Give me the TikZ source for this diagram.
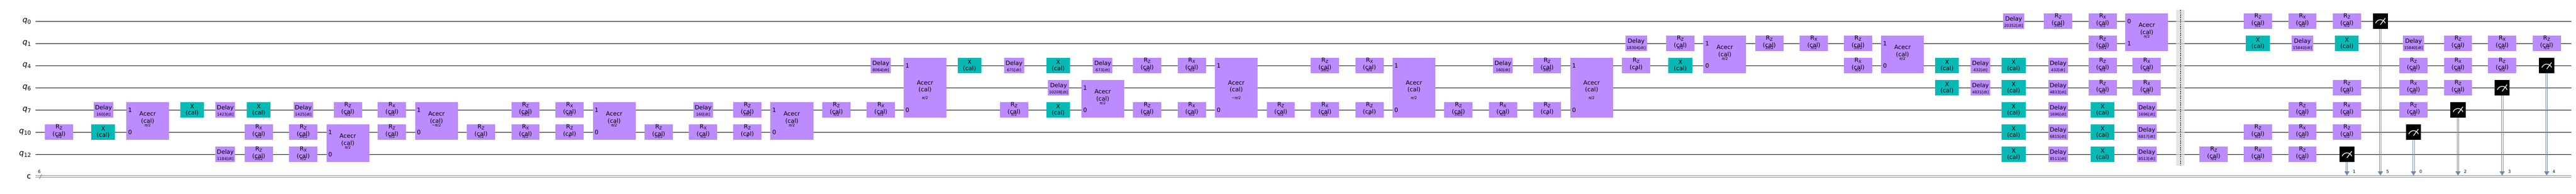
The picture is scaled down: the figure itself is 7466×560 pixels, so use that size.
\documentclass[tikz,border=0pt]{standalone}
\usepackage{fontspec}
\setmainfont{DejaVu Sans}
\begin{document}
\definecolor{gp}{HTML}{BB8BFF}
\definecolor{gt}{HTML}{05BAB6}
\definecolor{cc}{HTML}{778899}
\definecolor{bg}{HTML}{DBDBDB}
\newcommand\mf{\fontsize{17}{17}\selectfont}
\newcommand\smf{\fontsize{11}{11}\selectfont}
\newcommand\ph{{\itshape π}/2}
\newcommand\tph{3{\itshape π}/2}
\newcommand\pp{{\itshape π}}
\newcommand\mph{−{\itshape π}/2}
\def\yA{61.5}\def\yB{125.7}\def\yC{189.9}\def\yD{254.1}\def\yE{318.3}\def\yF{382.5}\def\yG{446.7}\def\yH{511}
\tikzset{
 pg/.style={fill=gp,draw=none,minimum height=44pt,inner sep=0pt},
 tg/.style={fill=gt,draw=none,minimum height=44pt,minimum width=69pt,inner sep=0pt},
 mg/.style={fill=black,draw=none,minimum height=44pt,minimum width=44pt,inner sep=0pt},
 tx/.style={inner sep=0pt,font=\mf},
 st/.style={inner sep=0pt,font=\smf},
 wire/.style={line width=1.8pt,black},
 cl/.style={line width=1.5pt,cc},
 ql/.style={inner sep=0pt,anchor=east}
}
\newcommand\gR[5]{%
 \node[pg,minimum width=82pt] (#1) at (#2,#3) {};
 \node[tx] (#1a) at ([yshift=15pt]#1.center) {R\raisebox{-3pt}{\fontsize{12}{12}\selectfont #4}};
 \node[tx] (#1b) at ([yshift=-5pt]#1.center) {(cal)};
 \node[st] (#1c) at ([yshift=-13pt]#1.center) {#5};}
\newcommand\gX[3]{%
 \node[tg] (#1) at (#2,#3) {};
 \node[tx] (#1a) at ([yshift=10pt]#1.center) {X};
 \node[tx] (#1b) at ([yshift=-9pt]#1.center) {(cal)};}
\newcommand\gD[5]{%
 \node[pg,minimum width=#4pt] (#1) at (#2,#3) {};
 \node[tx] (#1a) at ([yshift=6pt]#1.center) {Delay};
 \node[st] (#1b) at ([yshift=-13pt]#1.center) {#5};}
\newcommand\gA[7]{%
 \node[pg,minimum width=124pt,minimum height={#4-#3+44}] (#1) at ({#2},{(#3+#4)/2}) {};
 \node[tx] (#1a) at ([yshift=21pt]#1.center) {Acecr};
 \node[tx] (#1b) at (#1.center) {(cal)};
 \node[st] (#1c) at ([yshift=-12pt]#1.center) {#5};
 \node[tx] (#1d) at ({#2-51},#3) {#6};
 \node[tx] (#1e) at ({#2-51},#4) {#7};}
\newcommand\gW[5]{%
 \node[pg,minimum width=124pt,minimum height={#4-#3+44}] (#1) at ({#2},{(#3+#4)/2}) {};
 \node[tx] (#1a) at ([yshift=15pt]#1.center) {Acecr};
 \node[tx] (#1b) at ([yshift=-6pt]#1.center) {(cal)};
 \node[st] (#1c) at ([yshift=-30pt]#1.center) {#5};
 \node[tx] (#1d) at ({#2-51},#3) {1};
 \node[tx] (#1e) at ({#2-51},#4) {0};}
\newcommand\gM[4]{%
 \node[mg] (#1) at (#2,#3) {};
 \draw[white,line width=2pt] ([xshift=-14pt,yshift=-5.5pt]#1.center) arc[start angle=160,end angle=20,radius=15pt];
 \draw[white,line width=2pt] ([yshift=-10pt]#1.center) -- ([xshift=14pt,yshift=9pt]#1.center);
 \coordinate (#1t) at (#2,496);
 \draw[cl] ([xshift=-2.2pt]#1.south) -- ([xshift=-2.2pt]#1t);
 \draw[cl] ([xshift=2.2pt]#1.south) -- ([xshift=2.2pt]#1t);
 \fill[cc] ([xshift=-7.5pt]#1t) -- ([xshift=7.5pt]#1t) -- ([yshift=-12pt]#1t) -- cycle;
 \node[inner sep=0pt,font=\fontsize{12}{12}\selectfont] (#1n) at (#2+21,497) {#4};}
\begin{tikzpicture}[x=1pt,y=-1pt]
\useasboundingbox (0,0) rectangle (7466,560);
% wires
\foreach \n/\y in {A/\yA,B/\yB,C/\yC,D/\yD,E/\yE,F/\yF,G/\yG}{
 \coordinate (w\n s) at (103,\y); \coordinate (w\n e) at (7452,\y);
 \draw[wire] (w\n s) -- (w\n e);}
\coordinate (cs) at (103,\yH); \coordinate (ce) at (7452,\yH);
\draw[cl] ([yshift=2pt]cs) -- ([yshift=2pt]ce);
\draw[cl] ([yshift=-2pt]cs) -- ([yshift=-2pt]ce);
\coordinate (sl1) at (114,518); \coordinate (sl2) at (121,504);
\draw[cl] (sl1) -- (sl2);
\node[inner sep=0pt,font=\fontsize{12}{12}\selectfont] (six) at (114,497) {6};
% labels
\newcommand\qlab[1]{{\fontsize{22}{22}\selectfont\itshape q}\raisebox{-5pt}{\fontsize{16}{16}\selectfont #1}}
\node[ql] (l0) at (90,\yA) {\qlab{0}};
\node[ql] (l1) at (90,\yB) {\qlab{1}};
\node[ql] (l4) at (90,\yC) {\qlab{4}};
\node[ql] (l6) at (90,\yD) {\qlab{6}};
\node[ql] (l7) at (90,\yE) {\qlab{7}};
\node[ql] (l10) at (90,\yF) {\qlab{10}};
\node[ql] (l12) at (90,\yG) {\qlab{12}};
\node[ql] (lc) at (90,\yH) {\fontsize{22}{22}\selectfont c};
% gates
\gR{g1}{171}{\yF}{Z}{\ph}
\gD{g2}{300}{\yE}{57}{160[dt]} \gX{g3}{299}{\yF}
\gA{g4}{428}{\yE}{\yF}{\ph}{1}{0}
\gX{g5}{557}{\yE}
\gD{g6}{653}{\yE}{57}{1423[dt]} \gD{g7}{653}{\yG}{57}{1184[dt]}
\gX{g8}{750}{\yE} \gR{g9}{750}{\yF}{X}{\ph} \gR{g10}{750}{\yG}{Z}{\tph}
\gD{g11}{879}{\yE}{57}{1425[dt]} \gR{g12}{879}{\yF}{Z}{\tph} \gR{g13}{879}{\yG}{X}{\ph}
\gA{g14}{1008}{\yF}{\yG}{\ph}{1}{0} \gR{g15}{1008}{\yE}{Z}{\ph}
\gR{g16}{1136}{\yE}{X}{\ph} \gR{g17}{1136}{\yF}{Z}{\ph}
\gA{g18}{1265}{\yE}{\yF}{\mph}{1}{0}
\gR{g19}{1394}{\yF}{Z}{\ph}
\gR{g20}{1523}{\yE}{Z}{\tph} \gR{g21}{1523}{\yF}{X}{\ph}
\gR{g22}{1651}{\yE}{X}{\ph} \gR{g23}{1651}{\yF}{Z}{\pp}
\gA{g24}{1780}{\yE}{\yF}{\ph}{1}{0}
\gR{g25}{1909}{\yF}{Z}{\tph}
\gD{g26}{2038}{\yE}{57}{160[dt]} \gR{g27}{2038}{\yF}{X}{\ph}
\gR{g28}{2166}{\yE}{Z}{\tph} \gR{g29}{2166}{\yF}{Z}{\pp}
\gA{g30}{2295}{\yE}{\yF}{\ph}{1}{0}
\gR{g31}{2424}{\yE}{Z}{\ph}
\gD{g32}{2553}{\yC}{58}{8064[dt]} \gR{g33}{2553}{\yE}{X}{\ph}
\gW{g34}{2681}{\yC}{\yE}{\ph}
\gX{g35}{2810}{\yC}
\gD{g36}{2939}{\yC}{58}{671[dt]} \gR{g37}{2939}{\yE}{Z}{\ph}
\gX{g38}{3067}{\yC} \gD{g39}{3068}{\yD}{62}{10208[dt]} \gX{g40}{3067}{\yE}
\gA{g41}{3196}{\yD}{\yE}{\ph}{1}{0} \gD{g42}{3196}{\yC}{57}{673[dt]}
\gR{g43}{3325}{\yC}{Z}{\ph} \gR{g44}{3325}{\yE}{Z}{\ph}
\gR{g45}{3454}{\yC}{X}{\ph} \gR{g46}{3454}{\yE}{X}{\ph}
\gW{g47}{3583}{\yC}{\yE}{\mph}
\gR{g48}{3712}{\yE}{Z}{\ph}
\gR{g49}{3840}{\yC}{Z}{\tph} \gR{g50}{3840}{\yE}{X}{\ph}
\gR{g51}{3969}{\yC}{X}{\ph} \gR{g52}{3969}{\yE}{Z}{\pp}
\gW{g53}{4098}{\yC}{\yE}{\ph}
\gR{g54}{4227}{\yE}{Z}{\tph}
\gD{g55}{4356}{\yC}{57}{160[dt]} \gR{g56}{4356}{\yE}{X}{\ph}
\gR{g57}{4484}{\yC}{Z}{\tph} \gR{g58}{4484}{\yE}{Z}{\pp}
\gW{g59}{4613}{\yC}{\yE}{\ph}
\gD{g60}{4742}{\yB}{62}{18304[dt]} \gR{g61}{4742}{\yC}{Z}{\pp}
\gR{g62}{4870}{\yB}{Z}{\ph} \gX{g63}{4870}{\yC}
\gA{g64}{4999}{\yB}{\yC}{\ph}{1}{0}
\gR{g65}{5128}{\yB}{Z}{\tph}
\gR{g66}{5257}{\yB}{X}{\ph}
\gR{g67}{5385}{\yB}{Z}{\tph} \gR{g68}{5385}{\yC}{X}{\ph}
\gA{g69}{5514}{\yB}{\yC}{\ph}{1}{0}
\gX{g70}{5643}{\yC} \gX{g71}{5643}{\yD}
\gD{g72}{5740}{\yC}{57}{432[dt]} \gD{g73}{5740}{\yD}{57}{4831[dt]}
\gD{g74}{5836}{\yA}{62}{20352[dt]} \gX{g75}{5836}{\yC} \gX{g76}{5836}{\yD} \gX{g77}{5836}{\yE} \gX{g78}{5836}{\yF} \gX{g79}{5836}{\yG}
\gR{g80}{5965}{\yA}{Z}{\tph} \gD{g81}{5965}{\yC}{57}{432[dt]} \gD{g82}{5965}{\yD}{57}{4833[dt]} \gD{g83}{5965}{\yE}{57}{1696[dt]} \gD{g84}{5965}{\yF}{57}{6815[dt]} \gD{g85}{5965}{\yG}{57}{8511[dt]}
\gR{g86}{6094}{\yA}{X}{\ph} \gR{g87}{6094}{\yB}{Z}{\tph} \gR{g88}{6094}{\yC}{Z}{\ph} \gR{g89}{6094}{\yD}{Z}{\ph} \gX{g90}{6094}{\yE} \gX{g91}{6094}{\yF} \gX{g92}{6094}{\yG}
\gA{g93}{6222}{\yA}{\yB}{\ph}{0}{1} \gR{g94}{6222}{\yC}{X}{\ph} \gR{g95}{6222}{\yD}{X}{\ph} \gD{g96}{6222}{\yE}{57}{1696[dt]} \gD{g97}{6222}{\yF}{57}{6817[dt]} \gD{g98}{6222}{\yG}{57}{8513[dt]}
% barrier
\node[fill=bg,opacity=0.75,minimum width=25pt,minimum height=450pt,inner sep=0pt] (bar) at (6319,254) {};
\coordinate (bt) at (6319,29); \coordinate (bb) at (6319,479);
\draw[black,line width=1pt,dash pattern=on 4pt off 2.5pt] (bt) -- (bb);
\gR{g99}{6416}{\yG}{Z}{\ph}
\gR{g100}{6544}{\yA}{Z}{\ph} \gX{g101}{6544}{\yB} \gR{g102}{6544}{\yF}{Z}{\ph} \gR{g103}{6544}{\yG}{X}{\ph}
\gR{g104}{6673}{\yA}{X}{\ph} \gD{g105}{6673}{\yB}{62}{15840[dt]} \gR{g106}{6673}{\yE}{Z}{\ph} \gR{g107}{6673}{\yF}{X}{\ph} \gR{g108}{6673}{\yG}{Z}{\ph}
\gR{g109}{6802}{\yA}{Z}{\ph} \gX{g110}{6802}{\yB} \gR{g111}{6802}{\yD}{Z}{\ph} \gR{g112}{6802}{\yE}{X}{\ph} \gR{g113}{6802}{\yF}{Z}{\ph} \gM{g114}{6802}{\yG}{1}
\gM{g115}{6899}{\yA}{5}
\gD{g116}{6995}{\yB}{62}{15840[dt]} \gR{g117}{6995}{\yC}{Z}{\ph} \gR{g118}{6995}{\yD}{X}{\ph} \gR{g119}{6995}{\yE}{Z}{\ph} \gM{g120}{6995}{\yF}{0}
\gR{g121}{7124}{\yB}{Z}{\ph} \gR{g122}{7124}{\yC}{X}{\ph} \gR{g123}{7124}{\yD}{Z}{\ph} \gM{g124}{7124}{\yE}{2}
\gR{g125}{7252}{\yB}{X}{\ph} \gR{g126}{7252}{\yC}{Z}{\ph} \gM{g127}{7252}{\yD}{3}
\gR{g128}{7381}{\yB}{Z}{\ph} \gM{g129}{7381}{\yC}{4}
\end{tikzpicture}
\end{document}
